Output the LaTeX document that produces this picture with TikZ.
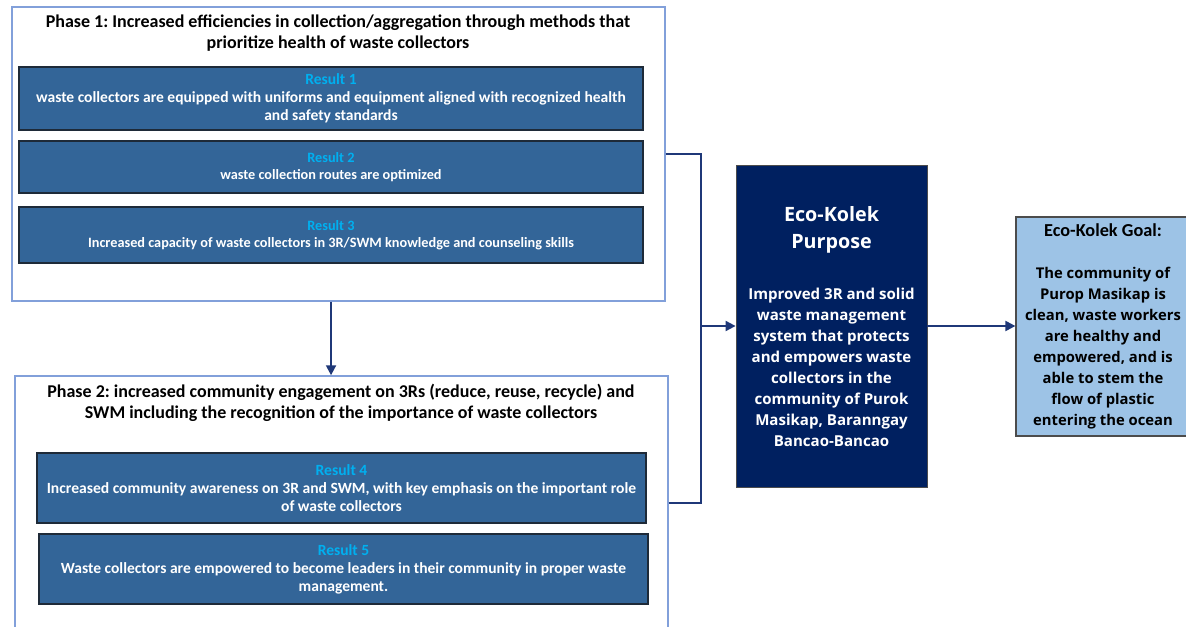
\documentclass[tikz,border=0pt]{standalone}
\usepackage{fontspec}
\setmainfont{Carlito}
\newfontfamily\purposefont{Open Sans}
\usetikzlibrary{arrows.meta}
\frenchspacing

\definecolor{resultblue}{RGB}{51,101,152}
\definecolor{resultline}{RGB}{30,42,56}
\definecolor{phaseline}{RGB}{130,160,218}
\definecolor{flowblue}{RGB}{31,56,120}
\definecolor{labelcyan}{RGB}{0,176,240}
\definecolor{purposenavy}{RGB}{0,32,96}
\definecolor{goalblue}{RGB}{157,195,230}

\newcommand{\reslabel}[1]{{\color{labelcyan}Result #1}}

\begin{document}
\begin{tikzpicture}[x=0.75pt,y=0.75pt,yscale=-1,xscale=1,
  phase/.style={draw=phaseline, line width=1.1pt, fill=white, minimum width=489.75pt, inner sep=0pt},
  phasetitle/.style={align=center, font=\bfseries\fontsize{13.5}{15.75}\selectfont},
  result/.style={draw=resultline, line width=0.9pt, fill=resultblue, text=white, align=center, inner sep=0pt},
  flow/.style={draw=flowblue, line width=1.5pt},
  tip/.style={-{Triangle[length=7.5pt,width=7.5pt]}}]
 \useasboundingbox (0,0) rectangle (1186,627);
 \clip (0,0) rectangle (1186,627);

 % phase 1
 \node (phase1) [phase, minimum height=220.5pt] at (338.5,154) {};
 \node (title1) [phasetitle] at (338,33) {Phase 1: Increased efficiencies in collection/aggregation through methods that\\prioritize health of waste collectors};
 \node (res1) [result, minimum width=468pt, minimum height=47.25pt, font=\bfseries\fontsize{11.65}{13.5}\selectfont] at (331,98.5)
   {\reslabel{1}\\waste collectors are equipped with uniforms and equipment aligned with recognized health\\and safety standards};
 \node (res2) [result, minimum width=468pt, minimum height=39pt, font=\bfseries\fontsize{10.7}{12.75}\selectfont] at (331,167)
   {\reslabel{2}\\waste collection routes are optimized};
 \node (res3) [result, minimum width=468pt, minimum height=42pt, font=\bfseries\fontsize{10.7}{12.75}\selectfont] at (331,235)
   {\reslabel{3}\\Increased capacity of waste collectors in 3R/SWM knowledge and counseling skills};

 % phase 2
 \node (phase2) [phase, minimum height=190.5pt] at (341.5,503) {};
 \node (title2) [phasetitle] at (341,403) {Phase 2: increased community engagement on 3Rs (reduce, reuse, recycle) and\\SWM including the recognition of the importance of waste collectors};
 \node (res4) [result, minimum width=456.75pt, minimum height=52.5pt, font=\bfseries\fontsize{11.7}{13.5}\selectfont] at (341.5,488)
   {\reslabel{4}\\Increased community awareness on 3R and SWM, with key emphasis on the important role\\of waste collectors};
 \node (res5) [result, minimum width=456.75pt, minimum height=52.5pt, font=\bfseries\fontsize{11.65}{13.5}\selectfont] at (343.5,569)
   {\reslabel{5}\\Waste collectors are empowered to become leaders in their community in proper waste\\management.};

 % purpose and goal
 \node (purpose) [draw=black!70, line width=0.6pt, fill=purposenavy, text=white, align=center, inner sep=0pt,
   minimum width=143.25pt, minimum height=241.5pt, font=\purposefont\bfseries\fontsize{11.3}{15.75}\selectfont] at (831.5,326.5)
   {\fontsize{14.8}{20.25}\selectfont Eco-Kolek\\[4.5pt]\fontsize{14.8}{20.25}\selectfont Purpose\\[22.5pt]
    Improved 3R and solid\\waste management\\system that protects\\and empowers waste\\collectors in the\\community of Purok\\Masikap, Baranngay\\Bancao-Bancao};
 \node (goal) [draw=black!70, line width=0.9pt, fill=goalblue, align=center, inner sep=0pt,
   minimum width=130.5pt, minimum height=164.25pt, font=\purposefont\bfseries\fontsize{11.1}{15.75}\selectfont] at (1103,326.5)
   {\rmfamily\bfseries\fontsize{13.7}{15.75}\selectfont Eco-Kolek Goal:\\[15.75pt]
    The community of\\Purop Masikap is\\clean, waste workers\\are healthy and\\empowered, and is\\able to stem the\\flow of plastic\\entering the ocean};

 % connectors
 \coordinate (join) at (701,326);
 \draw [flow, tip] ([xshift=-5.6pt]phase1.south) -- ([xshift=-5.6pt]phase1.south |- phase2.north);
 \draw [flow] (phase1.east) -| (join);
 \draw [flow] (phase2.east) -| (join);
 \draw [flow, tip] (join) -- (join -| purpose.west);
 \draw [flow, tip] (join -| purpose.east) -- (join -| goal.west);
\end{tikzpicture}
\end{document}
